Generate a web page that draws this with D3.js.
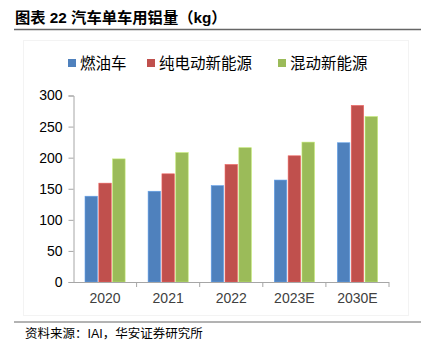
<!DOCTYPE html>
<html>
<head>
<meta charset="utf-8">
<script src="https://cdn.jsdelivr.net/npm/d3@7"></script>
<style>
  body { margin: 0; background: #fff; }
  svg { display: block; }
</style>
</head>
<body>
<svg id="chart" width="421" height="352"></svg>
<script>
var years = ["2020", "2021", "2022", "2023E", "2030E"];
var seriesNames = ["燃油车", "纯电动新能源", "混动新能源"];
var fuel = [138, 146, 155, 164, 224];
var bev = [159, 174, 189, 203, 284];
var hybrid = [198, 208, 216, 225, 266];
var yTicks = [0, 50, 100, 150, 200, 250, 300];

var colors = ["#4F81BD", "#C0504D", "#9BBB59"];
var series = [fuel, bev, hybrid];

var svg = d3.select("#chart");
var font = "Arial, 'Liberation Sans', 'Noto Sans CJK SC', sans-serif";

// title
svg.append("text")
  .attr("x", 15).attr("y", 23)
  .style("font", "bold 15.3px " + font)
  .attr("fill", "#000")
  .text("图表 22 汽车单车用铝量（kg）");

svg.append("line")
  .attr("x1", 14).attr("x2", 421).attr("y1", 29.5).attr("y2", 29.5)
  .attr("stroke", "#666").attr("stroke-width", 1.5);

// faint chart area border
svg.append("rect")
  .attr("x", 23.5).attr("y", 40.5).attr("width", 385).attr("height", 275)
  .attr("fill", "none").attr("stroke", "#f3f3f3");

var x0 = d3.scaleBand().domain(years).range([73.5, 389]).paddingInner(0).paddingOuter(0);
var x1 = d3.scaleBand().domain(d3.range(3)).range([11.5, x0.bandwidth() - 11.5]).paddingInner(0.1);
var y = d3.scaleLinear().domain([0, 300]).range([282, 95.5]);

// bars
var g = svg.append("g");
years.forEach(function(yr, i) {
  series.forEach(function(s, j) {
    g.append("rect")
      .attr("x", x0(yr) + x1(j))
      .attr("y", y(s[i]))
      .attr("width", x1.bandwidth())
      .attr("height", y(0) - y(s[i]))
      .attr("fill", colors[j])
      .attr("stroke", d3.color(colors[j]).brighter(0.6))
      .attr("stroke-width", 0.6);
  });
});

// y axis
var yAxis = svg.append("g")
  .attr("transform", "translate(73.5,0)")
  .call(d3.axisLeft(y).tickValues(yTicks).tickSize(5).tickPadding(6));
yAxis.select(".domain").attr("stroke", "#A6A6A6");
yAxis.selectAll(".tick line").attr("stroke", "#A6A6A6");
yAxis.selectAll(".tick text")
  .style("font", "14px " + font).attr("fill", "#000");

// x axis
var xAxis = svg.append("g")
  .attr("transform", "translate(0," + y(0) + ")")
  .call(d3.axisBottom(x0).tickSize(0).tickPadding(11));
xAxis.select(".domain").attr("stroke", "#A6A6A6").attr("d", "M69," + 0.5 + "H389");
xAxis.selectAll(".tick text")
  .style("font", "14px " + font).attr("fill", "#404040");
var bounds = years.map(function(yr) { return x0(yr) + x0.bandwidth(); });
xAxis.selectAll(".sep")
  .data(bounds)
  .enter().append("line")
  .attr("class", "sep")
  .attr("x1", function(d) { return d; }).attr("x2", function(d) { return d; })
  .attr("y1", 0).attr("y2", 5)
  .attr("stroke", "#A6A6A6");

// legend
var legendX = [68, 147, 278];
var legend = svg.append("g");
seriesNames.forEach(function(name, j) {
  legend.append("rect")
    .attr("x", legendX[j]).attr("y", 59)
    .attr("width", 8).attr("height", 8)
    .attr("fill", colors[j]);
  legend.append("text")
    .attr("x", legendX[j] + 12).attr("y", 69)
    .style("font", "15.5px " + font)
    .attr("fill", "#000")
    .text(name);
});

// footer
svg.append("line")
  .attr("x1", 14).attr("x2", 421).attr("y1", 322).attr("y2", 322)
  .attr("stroke", "#666").attr("stroke-width", 1);
svg.append("text")
  .attr("x", 25).attr("y", 338)
  .style("font", "12.5px " + font)
  .attr("fill", "#000")
  .text("资料来源：IAI，华安证券研究所");
</script>
</body>
</html>
